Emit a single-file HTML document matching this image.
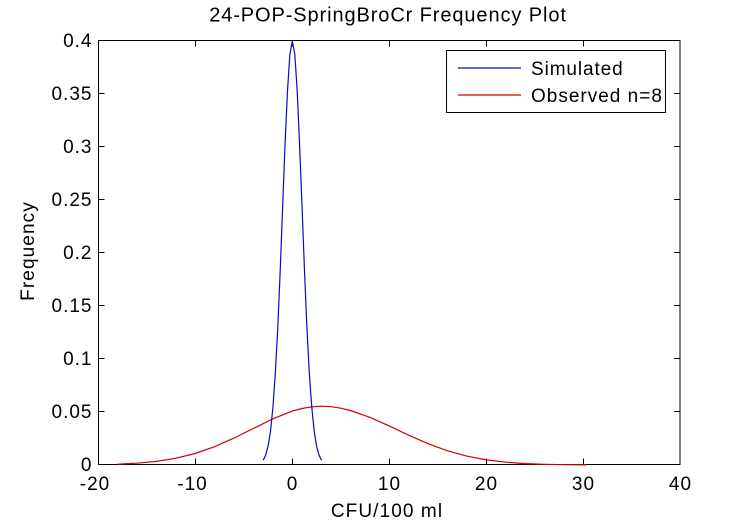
<!DOCTYPE html>
<html>
<head>
<meta charset="utf-8">
<style>
html,body{margin:0;padding:0;background:#fff;}
svg{display:block;}
text{font-family:"Liberation Sans",Arial,sans-serif;fill:#000;}
</style>
</head>
<body>
<svg width="751" height="525" viewBox="0 0 751 525" xmlns="http://www.w3.org/2000/svg">
<rect x="0" y="0" width="751" height="525" fill="#fff"/>
<!-- axes box -->
<rect x="98.5" y="40.5" width="581.5" height="424" fill="none" stroke="#000" stroke-width="1"/>
<!-- x ticks bottom & top -->
<g stroke="#000" stroke-width="1">
<line x1="195.5" y1="464.5" x2="195.5" y2="458.5"/>
<line x1="292.5" y1="464.5" x2="292.5" y2="458.5"/>
<line x1="389.5" y1="464.5" x2="389.5" y2="458.5"/>
<line x1="486.5" y1="464.5" x2="486.5" y2="458.5"/>
<line x1="583.5" y1="464.5" x2="583.5" y2="458.5"/>
<line x1="195.5" y1="40.5" x2="195.5" y2="46.5"/>
<line x1="292.5" y1="40.5" x2="292.5" y2="46.5"/>
<line x1="389.5" y1="40.5" x2="389.5" y2="46.5"/>
<line x1="486.5" y1="40.5" x2="486.5" y2="46.5"/>
<line x1="583.5" y1="40.5" x2="583.5" y2="46.5"/>
<!-- y ticks left & right -->
<line x1="98.5" y1="411.5" x2="104.5" y2="411.5"/>
<line x1="98.5" y1="358.5" x2="104.5" y2="358.5"/>
<line x1="98.5" y1="305.5" x2="104.5" y2="305.5"/>
<line x1="98.5" y1="252.5" x2="104.5" y2="252.5"/>
<line x1="98.5" y1="199.5" x2="104.5" y2="199.5"/>
<line x1="98.5" y1="146.5" x2="104.5" y2="146.5"/>
<line x1="98.5" y1="93.5" x2="104.5" y2="93.5"/>
<line x1="680" y1="411.5" x2="674" y2="411.5"/>
<line x1="680" y1="358.5" x2="674" y2="358.5"/>
<line x1="680" y1="305.5" x2="674" y2="305.5"/>
<line x1="680" y1="252.5" x2="674" y2="252.5"/>
<line x1="680" y1="199.5" x2="674" y2="199.5"/>
<line x1="680" y1="146.5" x2="674" y2="146.5"/>
<line x1="680" y1="93.5" x2="674" y2="93.5"/>
</g>
<!-- y tick labels -->
<g font-size="19" letter-spacing="1" text-anchor="end">
<text x="92.5" y="471">0</text>
<text x="92.5" y="418">0.05</text>
<text x="92.5" y="365">0.1</text>
<text x="92.5" y="312">0.15</text>
<text x="92.5" y="259">0.2</text>
<text x="92.5" y="206">0.25</text>
<text x="92.5" y="153">0.3</text>
<text x="92.5" y="100">0.35</text>
<text x="92.5" y="47">0.4</text>
</g>
<!-- x tick labels -->
<g font-size="19" letter-spacing="1" text-anchor="middle">
<text x="95" y="490">-20</text>
<text x="192.5" y="490">-10</text>
<text x="292.5" y="490">0</text>
<text x="389.5" y="490">10</text>
<text x="486.5" y="490">20</text>
<text x="583.5" y="490">30</text>
<text x="680.5" y="490">40</text>
</g>
<!-- title and labels -->
<text x="388" y="21.5" font-size="20" letter-spacing="0.9" text-anchor="middle">24-POP-SpringBroCr Frequency Plot</text>
<text x="387" y="517" font-size="19" letter-spacing="1.1" text-anchor="middle">CFU/100 ml</text>
<text x="0" y="0" font-size="19" letter-spacing="1.1" text-anchor="middle" transform="translate(34,251) rotate(-90)">Frequency</text>
<!-- observed (red) -->
<polyline fill="none" stroke="#d40000" stroke-width="1.2" points="117.4,464.2 136.9,463.2 156.3,461.4 175.7,458.3 195.2,453.5 214.6,446.7 234.0,438.1 253.5,428.4 272.9,418.8 292.3,411.1 302.0,408.5 311.8,406.8 321.5,406.2 331.2,406.7 340.9,408.2 350.6,410.5 370.1,417.4 389.5,426.1 408.9,435.3 428.4,443.8 447.8,450.9 467.2,456.2 486.7,459.9 506.1,462.2 525.5,463.6 545.0,464.3 564.4,464.7 586.7,464.9"/>
<!-- simulated (blue) -->
<polyline fill="none" stroke="#0a0ac8" stroke-width="1.2" points="263.2,460.3 265.6,455.3 268.0,446.4 270.5,431.3 272.9,407.6 275.3,373.3 277.8,327.4 280.2,270.9 282.6,207.9 285.0,145.0 287.5,90.9 289.9,54.2 292.3,41.1 294.8,54.2 297.2,90.9 299.6,145.0 302.1,207.9 304.5,270.9 306.9,327.4 309.3,373.3 311.8,407.6 314.2,431.3 316.6,446.4 319.1,455.3 321.5,460.3"/>
<!-- legend -->
<rect x="446.5" y="50.5" width="219" height="62" fill="#fff" stroke="#000" stroke-width="1"/>
<line x1="458" y1="68" x2="521" y2="68" stroke="#0a0ac8" stroke-width="1.2"/>
<line x1="458" y1="95" x2="521" y2="95" stroke="#d40000" stroke-width="1.2"/>
<text x="531" y="75" font-size="19" letter-spacing="0.9">Simulated</text>
<text x="531" y="102" font-size="19" letter-spacing="1">Observed n=8</text>
</svg>
</body>
</html>
